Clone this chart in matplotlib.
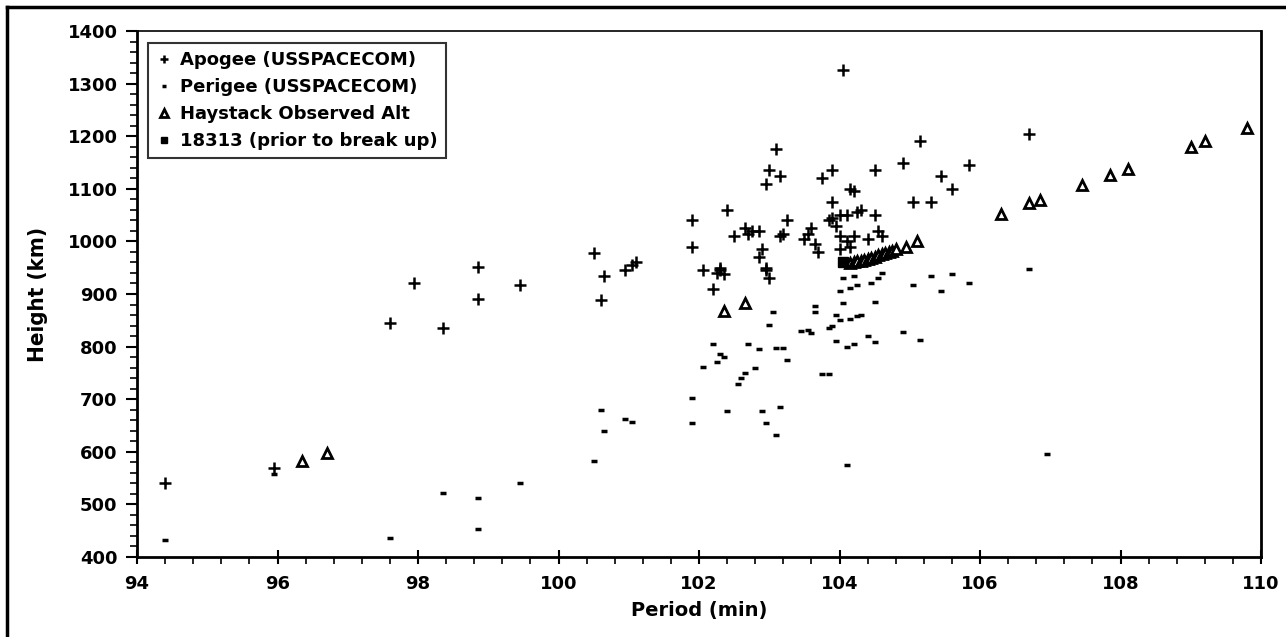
import matplotlib
matplotlib.use('Agg')
import matplotlib.pyplot as plt
from matplotlib.lines import Line2D
from matplotlib.ticker import MultipleLocator

# Apogee (USSPACECOM)
apo_period = [94.4, 95.95, 97.6, 97.95, 98.35, 98.85, 98.85, 99.45, 100.5, 100.6,
              100.65, 100.95, 101.05, 101.1, 101.9, 101.9, 102.05, 102.2, 102.25, 102.3,
              102.3, 102.35, 102.4, 102.5, 102.65, 102.7, 102.75, 102.85, 102.85, 102.9,
              102.95, 102.95, 102.95, 103.0, 103.0, 103.1, 103.15, 103.15, 103.2, 103.25,
              103.5, 103.55, 103.6, 103.65, 103.7, 103.75, 103.85, 103.9, 103.9, 103.9,
              103.95, 104.0, 104.0, 104.0, 104.05, 104.1, 104.1, 104.15, 104.15, 104.2,
              104.2, 104.25, 104.3, 104.4, 104.5, 104.5, 104.55, 104.6, 104.9, 105.05,
              105.15, 105.3, 105.45, 105.6, 105.85, 106.7]
apo_height = [540, 570, 845, 920, 835, 890, 952, 918, 977, 888,
              935, 945, 955, 960, 1040, 990, 945, 910, 940, 950,
              945, 938, 1060, 1010, 1025, 1015, 1020, 970, 1020, 985,
              950, 945, 1110, 1135, 930, 1175, 1125, 1010, 1015, 1040,
              1005, 1015, 1025, 995, 980, 1120, 1040, 1045, 1135, 1075,
              1030, 1050, 1010, 985, 1325, 1000, 1050, 1100, 990, 1095,
              1010, 1055, 1060, 1005, 1050, 1135, 1020, 1010, 1150, 1075,
              1190, 1075, 1125, 1100, 1145, 1205]

# Perigee (USSPACECOM)
per_period = [94.4, 95.95, 97.6, 98.35, 98.85, 98.85, 99.45, 100.5, 100.6, 100.65,
              100.95, 101.05, 101.9, 101.9, 102.05, 102.2, 102.25, 102.3, 102.35, 102.4,
              102.55, 102.6, 102.65, 102.7, 102.8, 102.85, 102.9, 102.95, 103.0, 103.05,
              103.1, 103.1, 103.15, 103.2, 103.25, 103.45, 103.55, 103.6, 103.65, 103.65,
              103.75, 103.85, 103.85, 103.9, 103.95, 103.95, 104.0, 104.0, 104.05, 104.05,
              104.1, 104.1, 104.15, 104.15, 104.2, 104.2, 104.25, 104.25, 104.3, 104.4,
              104.45, 104.5, 104.5, 104.55, 104.6, 104.9, 105.05, 105.15, 105.3, 105.45,
              105.6, 105.85, 106.7, 106.95]
per_height = [432, 557, 437, 521, 512, 453, 541, 582, 680, 640,
              662, 657, 703, 655, 762, 805, 770, 785, 780, 678,
              728, 740, 750, 805, 760, 795, 678, 655, 842, 866,
              797, 632, 685, 797, 775, 830, 832, 825, 877, 865,
              748, 748, 835, 840, 810, 860, 850, 905, 930, 882,
              575, 800, 852, 912, 935, 805, 918, 858, 860, 820,
              920, 885, 808, 930, 940, 828, 918, 812, 935, 905,
              938, 920, 948, 595]

# Haystack Observed Alt
hay_period = [96.35, 96.7, 102.35, 102.65, 104.15, 104.2, 104.25, 104.3, 104.35, 104.4,
              104.45, 104.5, 104.55, 104.6, 104.65, 104.7, 104.75, 104.8, 104.95, 105.1,
              106.3, 106.7, 106.85, 107.45, 107.85, 108.1, 109.0, 109.2, 109.8]
hay_height = [583, 598, 868, 882, 958, 960, 962, 963, 965, 967,
              969, 971, 974, 976, 978, 980, 982, 985, 990, 1000,
              1053, 1073, 1078, 1107, 1127, 1138, 1180, 1190, 1215]

# 18313 (prior to break up)
parent_period = [104.05]
parent_height = [960]

fig = plt.figure(figsize=(12.86, 6.37), dpi=100)
ax = fig.add_axes([137/1286, 1 - 557/637, (1261 - 137)/1286, (557 - 31)/637])

ax.plot(apo_period, apo_height, ls='none', marker='+', ms=8, mew=1.8, color='black',
        label='Apogee (USSPACECOM)')
ax.plot(per_period, per_height, ls='none', marker='_', ms=5, mew=2.5, color='black',
        label='Perigee (USSPACECOM)')
ax.plot(hay_period, hay_height, ls='none', marker='^', ms=7.5, mew=2, color='black',
        mfc='white', label='Haystack Observed Alt')
ax.plot(parent_period, parent_height, ls='none', marker='s', ms=7, color='black',
        label='18313 (prior to break up)')

ax.set_xlim(94, 110)
ax.set_ylim(400, 1400)
ax.xaxis.set_major_locator(MultipleLocator(2))
ax.xaxis.set_minor_locator(MultipleLocator(0.4))
ax.yaxis.set_major_locator(MultipleLocator(100))
ax.yaxis.set_minor_locator(MultipleLocator(20))
ax.tick_params(axis='x', which='major', direction='inout', length=10, width=1.5, pad=8)
ax.tick_params(axis='x', which='minor', direction='out', length=5, width=1.2)
ax.tick_params(axis='y', which='major', direction='out', length=8, width=1.5, pad=6)
ax.tick_params(axis='y', which='minor', direction='out', length=5, width=1.2)
for lab in ax.get_xticklabels() + ax.get_yticklabels():
    lab.set_fontweight('bold')
    lab.set_fontsize(13)
for s in ['left', 'bottom', 'right']:
    ax.spines[s].set_linewidth(2)
ax.spines['top'].set_linewidth(1.2)

ax.set_xlabel('Period (min)', fontsize=14, fontweight='bold', labelpad=6)
ax.set_ylabel('Height (km)', fontsize=16, fontweight='bold', labelpad=14,
              family='DejaVu Sans', fontstretch='condensed')

leg = ax.legend(loc='upper left', bbox_to_anchor=(0.01, 0.977), borderaxespad=0,
                prop={'weight': 'bold', 'size': 13}, frameon=True, fancybox=False,
                edgecolor='black', handlelength=0.8, handletextpad=0.5,
                labelspacing=0.5, borderpad=0.45, markerscale=0.7)
leg.get_frame().set_linewidth(1.5)

# outer frame of the scanned figure
fig.add_artist(Line2D([7/1286, 7/1286], [0, 1 - 7/637], transform=fig.transFigure,
                      color='black', lw=2.5))
fig.add_artist(Line2D([7/1286, 1], [1 - 7/637, 1 - 7/637], transform=fig.transFigure,
                      color='black', lw=2.5))

fig.savefig('out.png', dpi=100)
